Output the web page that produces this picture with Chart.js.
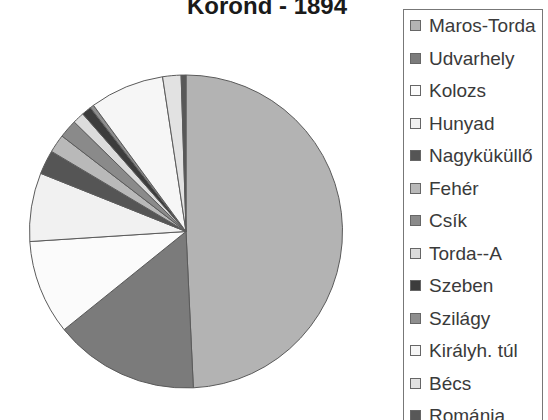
<!DOCTYPE html>
<html>
<head>
<meta charset="utf-8">
<script src="https://cdn.jsdelivr.net/npm/chart.js@4"></script>
<style>
  html, body { margin: 0; padding: 0; background: #fff; }
  body { width: 548px; height: 420px; position: relative; overflow: hidden; font-family: "Liberation Sans", Arial, sans-serif; }
  #title { position: absolute; left: 0; width: 534px; top: -6px; text-align: center; font-weight: bold; font-size: 24px; color: #1a1a1a; margin: 0; line-height: 24px; }
  #wrap { position: absolute; left: 0; top: 0; width: 374px; height: 420px; }
  #legend { position: absolute; left: 403px; top: 9px; width: 138px; height: 430px; border: 1px solid #777; border-bottom: none; }
  .item { position: absolute; left: 6px; height: 22px; line-height: 22px; font-size: 19px; color: #3a3a3a; white-space: nowrap; }
  .item .sw { display: inline-block; width: 9px; height: 9px; border: 1px solid #666; margin-right: 8px; vertical-align: 1px; }
</style>
</head>
<body>
<div id="title">Korond - 1894</div>
<div id="wrap"><canvas id="pie"></canvas></div>
<div id="legend"></div>
<script>
  // share of each origin (percent)
  const regions = ['Maros-Torda', 'Udvarhely', 'Kolozs', 'Hunyad', 'Nagyküküllő', 'Fehér', 'Csík', 'Torda--A', 'Szeben', 'Szilágy', 'Királyh. túl', 'Bécs', 'Románia'];
  const shares = [49.4, 15.0, 9.8, 7.1, 2.5, 1.9, 1.9, 1.2, 1.0, 0.4, 7.7, 1.9, 0.5];
  const fills = ['#b3b3b3', '#7b7b7b', '#fbfbfb', '#f1f1f1', '#555555', '#b9b9b9', '#8a8a8a', '#dcdcdc', '#3c3c3c', '#8e8e8e', '#f6f6f6', '#e2e2e2', '#585858'];

  new Chart(document.getElementById('pie'), {
    type: 'pie',
    data: {
      labels: regions,
      datasets: [{
        data: shares,
        backgroundColor: fills,
        borderColor: '#5a5a5a',
        borderWidth: 1
      }]
    },
    options: {
      responsive: true,
      maintainAspectRatio: false,
      animation: false,
      layout: { padding: { left: 29, right: 31, top: 74, bottom: 31 } },
      plugins: {
        legend: { display: false },
        tooltip: { enabled: false }
      }
    }
  });

  const legend = document.getElementById('legend');
  regions.forEach((name, i) => {
    const el = document.createElement('div');
    el.className = 'item';
    el.style.top = (5 + i * 32.5) + 'px';
    el.innerHTML = `<span class="sw" style="background:${fills[i]}"></span>${name}`;
    legend.appendChild(el);
  });
</script>
</body>
</html>
